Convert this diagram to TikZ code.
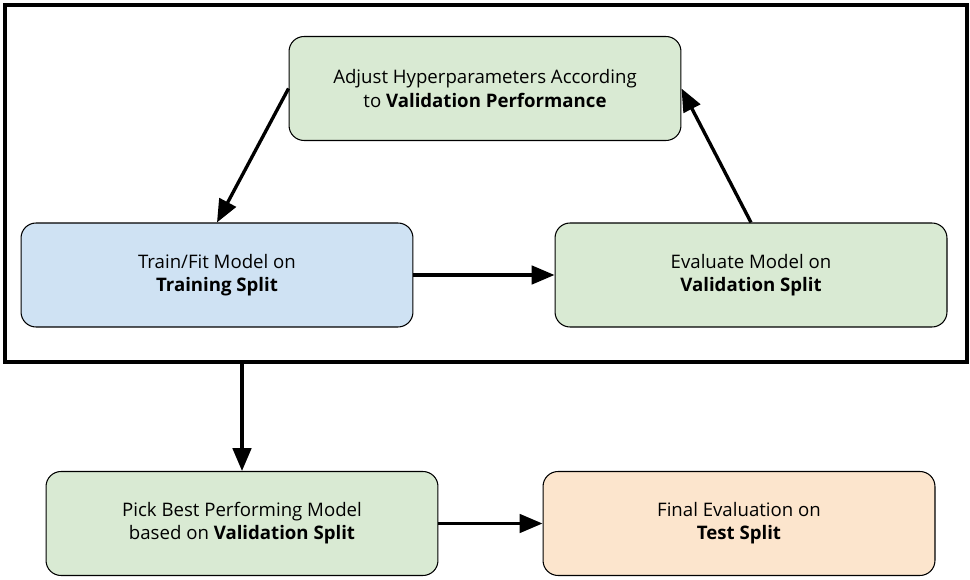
\documentclass[tikz,border=0pt]{standalone}
\usepackage{fontspec}
\setmainfont{Open Sans}
\usetikzlibrary{arrows.meta}
\definecolor{boxgreen}{HTML}{D9EAD3}
\definecolor{boxblue}{HTML}{CFE2F3}
\definecolor{boxorange}{HTML}{FCE5CD}
\tikzset{stepbox/.style = {draw, line width=0.6pt, rounded corners=0.3cm, minimum width=7.84cm, minimum height=2.08cm, align=center, font=\fontsize{10.6}{13.2}\selectfont}}
\tikzset{flow/.style = {line width=1.9pt, -{Triangle[length=13pt, width=10.5pt]}}}

\begin{document}
\begin{tikzpicture}[x=0.02cm, y=-0.02cm]
\useasboundingbox (0,0) rectangle (970,580);
\node[draw, line width=2.4pt, minimum width=19.24cm, minimum height=7.14cm, inner sep=0pt] (loop) at (486,183.5) {};
\node[stepbox, fill=boxgreen] (adjust) at (485,88.5) {Adjust Hyperparameters According\\to \textbf{Validation Performance}};
\node[stepbox, fill=boxblue] (train) at (217,275) {Train/Fit Model on\\\textbf{Training Split}};
\node[stepbox, fill=boxgreen] (evaluate) at (751,275) {Evaluate Model on\\\textbf{Validation Split}};
\node[stepbox, fill=boxgreen] (pick) at (242,523.5) {Pick Best Performing Model\\based on \textbf{Validation Split}};
\node[stepbox, fill=boxorange] (final) at (739,523.5) {Final Evaluation on\\\textbf{Test Split}};
\draw[flow] (adjust.west) -- (train.north);
\draw[flow] (train) -- (evaluate);
\draw[flow] (evaluate.north) -- (adjust.east);
\draw[flow] (loop.south -| pick.north) -- (pick.north);
\draw[flow] (pick) -- (final);
\end{tikzpicture}
\end{document}
